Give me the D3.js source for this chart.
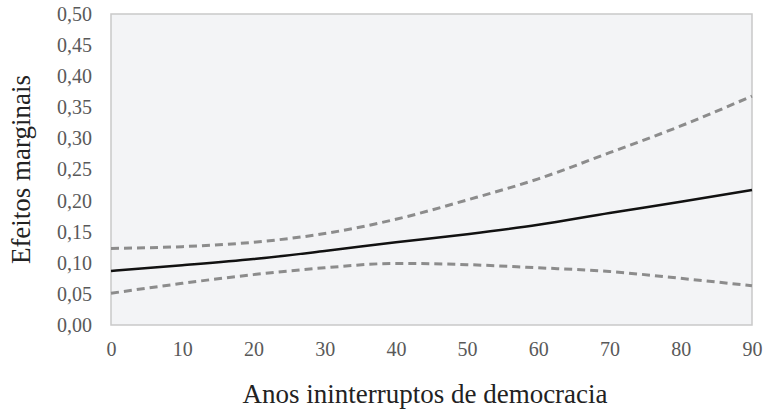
<!DOCTYPE html>
<html>
<head>
<meta charset="utf-8">
<style>
  body { margin: 0; background: #fff; }
  svg { display: block; }
  .tick text { font-family: "Liberation Serif", "DejaVu Serif", serif; font-size: 20px; fill: #595959; }
</style>
</head>
<body>
<script src="https://d3js.org/d3.v7.min.js"></script>
<script>
  // anos ininterruptos de democracia
  const anos = [0, 10, 20, 30, 40, 50, 60, 70, 80, 90];
  const efeito = [0.087, 0.096, 0.106, 0.119, 0.133, 0.146, 0.161, 0.180, 0.198, 0.217];
  const limSup = [0.123, 0.126, 0.133, 0.147, 0.170, 0.201, 0.235, 0.277, 0.320, 0.368];
  const limInf = [0.051, 0.067, 0.081, 0.092, 0.099, 0.097, 0.092, 0.086, 0.075, 0.063];
  const yTicks = [0, 0.05, 0.10, 0.15, 0.20, 0.25, 0.30, 0.35, 0.40, 0.45, 0.50];
  const xTicks = [0, 10, 20, 30, 40, 50, 60, 70, 80, 90];

  const serif = "'Liberation Serif', 'DejaVu Serif', serif";
  const w = 764, h = 411;
  const m = { left: 111, right: 12, top: 14, bottom: 86 };

  const svg = d3.select("body").append("svg")
    .attr("width", w)
    .attr("height", h);

  const x = d3.scaleLinear().domain([0, 90]).range([m.left, w - m.right]);
  const y = d3.scaleLinear().domain([0, 0.5]).range([h - m.bottom, m.top]);

  svg.append("rect")
    .attr("x", x(0)).attr("y", y(0.5))
    .attr("width", x(90) - x(0)).attr("height", y(0) - y(0.5))
    .attr("fill", "#f3f4f6")
    .attr("stroke", "#c9c9c9")
    .attr("stroke-width", 1.5);

  const fmt = d => d3.format(".2f")(d).replace(".", ",");

  const yAxis = svg.append("g")
    .attr("transform", `translate(${x(0)},0)`)
    .call(d3.axisLeft(y).tickValues(yTicks).tickFormat(fmt).tickSize(0).tickPadding(19));
  yAxis.select(".domain").remove();

  const xAxis = svg.append("g")
    .attr("transform", `translate(0,${y(0)})`)
    .call(d3.axisBottom(x).tickValues(xTicks).tickFormat(d3.format("d")).tickSize(0).tickPadding(17));
  xAxis.select(".domain").remove();

  const line = d3.line()
    .x((d, i) => x(anos[i]))
    .y(d => y(d))
    .curve(d3.curveMonotoneX);

  svg.append("path").datum(limSup)
    .attr("d", line).attr("fill", "none")
    .attr("stroke", "#8c8c8c").attr("stroke-width", 3)
    .attr("stroke-dasharray", "8,5");

  svg.append("path").datum(limInf)
    .attr("d", line).attr("fill", "none")
    .attr("stroke", "#8c8c8c").attr("stroke-width", 3)
    .attr("stroke-dasharray", "8,5");

  svg.append("path").datum(efeito)
    .attr("d", line).attr("fill", "none")
    .attr("stroke", "#111").attr("stroke-width", 2.5);

  svg.append("text")
    .attr("x", 425)
    .attr("y", 403)
    .attr("text-anchor", "middle")
    .attr("fill", "#222")
    .style("font-family", serif)
    .style("font-size", "27px")
    .text("Anos ininterruptos de democracia");

  svg.append("text")
    .attr("transform", `translate(30,${(y(0) + y(0.5)) / 2}) rotate(-90)`)
    .attr("text-anchor", "middle")
    .attr("fill", "#222")
    .style("font-family", serif)
    .style("font-size", "27px")
    .text("Efeitos marginais");
</script>
</body>
</html>
